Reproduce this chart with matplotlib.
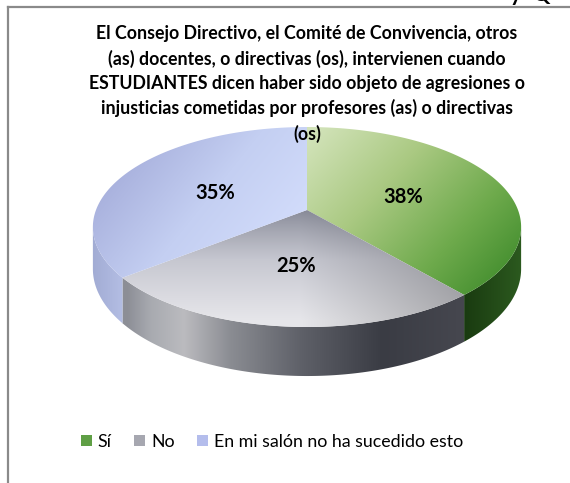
import numpy as np
import matplotlib
matplotlib.use("Agg")
import matplotlib.pyplot as plt
from matplotlib.patches import Polygon, Rectangle
from matplotlib.lines import Line2D
from matplotlib.colors import to_rgb

# ---- data ----
categories = ["Sí", "No", "En mi salón no ha sucedido esto"]
values = [38, 25, 35]
title = ("El Consejo Directivo, el Comité de Convivencia, otros\n"
         "(as) docentes, o directivas (os), intervienen cuando\n"
         "ESTUDIANTES dicen haber sido objeto de agresiones o\n"
         "injusticias cometidas por profesores (as) o directivas\n"
         "(os)")

W, H = 570, 483
fig = plt.figure(figsize=(W / 100, H / 100), dpi=100)
fig.patch.set_facecolor("white")
ax = fig.add_axes([0, 0, 1, 1])
ax.set_xlim(0, W)
ax.set_ylim(H, 0)
ax.axis("off")

FONT = "Lato"

# ---- perspective disc geometry (pixel space) ----
CX, Q, P, R, S, D = 307.0, 210.0, 61.4, -0.17, 211.0, 40.7


def proj(u, t, z=0.0):
    w = 1 + R * t
    return CX + S * u / w, (P * t + Q + D * z) / w


def rim(theta_deg, z=0.0, k=1.0):
    th = np.radians(theta_deg)
    return proj(k * np.sin(th), -k * np.cos(th), z)


fr = np.array(values, float) / np.sum(values)
edges = np.concatenate([[0], np.cumsum(fr) * 360])

XX, YY = np.meshgrid(np.arange(W) + 0.5, np.arange(H) + 0.5)


def ramp(g, stops):
    g = np.clip(g, 0, 1)
    pos = np.array([s[0] for s in stops])
    cols = np.array([to_rgb(s[1]) for s in stops])
    out = np.zeros(g.shape + (3,))
    for c in range(3):
        out[..., c] = np.interp(g, pos, cols[:, c])
    return out


def linear(x0, y0, x1, y1):
    dx, dy = x1 - x0, y1 - y0
    return ((XX - x0) * dx + (YY - y0) * dy) / (dx * dx + dy * dy)


# top-face shading per slice
green_top = ramp(linear(315, 130, 500, 300),
                 [(0, "#d2e3b9"), (0.35, "#aac982"), (0.7, "#6eaa4c"), (1, "#3d8a2a")])
gd = np.clip((YY - 205) / 115, 0, 1)
gray_top = ramp(gd ** 0.8, [(0, "#7d808e"), (0.55, "#c6c7d0"), (1, "#e6e6ea")])
dark = np.clip((XX - 300) / 180, 0, 1) * 0.28
gray_top = gray_top * (1 - dark[..., None])
lav_top = ramp(linear(120, 140, 270, 260),
               [(0, "#a3abd9"), (0.55, "#c4cff2"), (1, "#d2dcfb")])

# side shading per slice (horizontal)
green_side = ramp(linear(463, 0, 522, 0), [(0, "#193a10"), (1, "#2c5a1f")])
gray_side = ramp(linear(127, 0, 463, 0),
                 [(0, "#8c8e96"), (0.07, "#a8aab0"), (0.17, "#bbbbbf"), (0.31, "#8a8c92"),
                  (0.52, "#5e6068"), (0.76, "#3a3c44"), (1, "#46474f")])
lav_side = ramp(linear(93, 0, 127, 0), [(0, "#a2acd4"), (1, "#b6c0e6")])

tops = [green_top, gray_top, lav_top]
sides = [green_side, gray_side, lav_side]

A_RIGHT = np.degrees(np.arccos(R))        # silhouette on the right
A_LEFT = 360 - A_RIGHT                    # silhouette on the left

# sides (front portion only)
for i in range(len(values)):
    a0 = max(edges[i], A_RIGHT)
    a1 = min(edges[i + 1], A_LEFT)
    if a1 <= a0:
        continue
    th = np.linspace(a0, a1, 120)
    xt, yt = rim(th)
    xb, yb = rim(th, z=1.0)
    pts = np.column_stack([np.concatenate([xt, xb[::-1]]),
                           np.concatenate([yt, yb[::-1]])])
    poly = Polygon(pts, closed=True, facecolor="none", edgecolor="none")
    ax.add_patch(poly)
    im = ax.imshow(sides[i], extent=(0, W, H, 0), interpolation="bilinear", zorder=1)
    im.set_clip_path(poly)

# top faces
for i in range(len(values)):
    th = np.linspace(edges[i], edges[i + 1], 200)
    xs, ys = rim(th)
    cx0, cy0 = proj(0, 0)
    pts = np.column_stack([np.concatenate([[cx0], xs]), np.concatenate([[cy0], ys])])
    poly = Polygon(pts, closed=True, facecolor="none", edgecolor="none")
    ax.add_patch(poly)
    im = ax.imshow(tops[i], extent=(0, W, H, 0), interpolation="bilinear", zorder=2)
    im.set_clip_path(poly)

ax.set_xlim(0, W)
ax.set_ylim(H, 0)

# percentage labels
for i, v in enumerate(values):
    mid = (edges[i] + edges[i + 1]) / 2
    lx, ly = rim(mid, k=0.5)
    ax.text(lx, ly + 3, f"{v}%", ha="center", va="center", fontsize=14.5,
            fontweight="bold", family=FONT, color="black", zorder=5)

# title
ax.text(307, 25, title, ha="center", va="top", fontsize=12.8, fontweight="bold",
        family=FONT, linespacing=1.5, zorder=5)

# legend
handle_cols = ["#5f9f45", "#a6a7b0", "#b4bdec"]
handles = [Rectangle((0, 0), 1, 1, facecolor=c, edgecolor="none") for c in handle_cols]
fig.legend(handles, categories, loc="center", bbox_to_anchor=(272 / W, 1 - 442 / H),
           ncol=3, frameon=False, handlelength=0.6, handleheight=0.6,
           handletextpad=0.35, columnspacing=1.25, prop={"family": FONT, "size": 12.8})

# chart-area frame
ax.add_line(Line2D([8, W + 5], [7, 7], color="#8a8a8a", lw=1.6, zorder=6))
ax.add_line(Line2D([8, 8], [7, H + 5], color="#8a8a8a", lw=1.6, zorder=6))

# text continuing above the frame
ax.text(510, 1, "y  Q", ha="left", va="baseline", fontsize=16, fontweight="bold",
        family=FONT, color="black", zorder=6)

fig.savefig("out.png", dpi=100, facecolor="white")
